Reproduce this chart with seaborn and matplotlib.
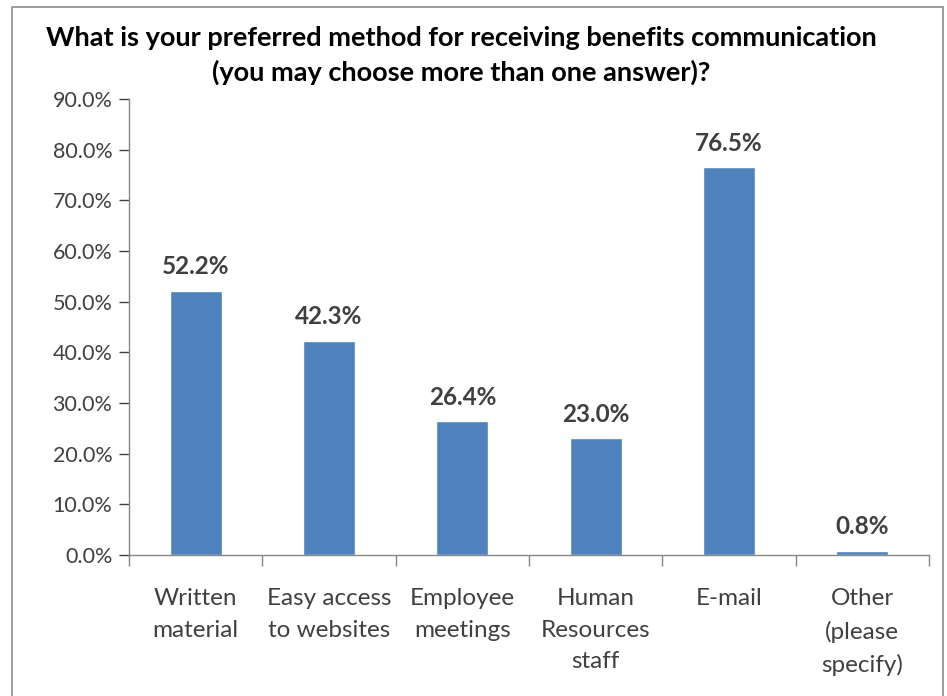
import matplotlib
matplotlib.use("Agg")
import matplotlib.pyplot as plt
from matplotlib.patches import Rectangle
from matplotlib.ticker import FuncFormatter, FixedLocator, NullFormatter
import seaborn as sns
import pandas as pd

categories = ["Written\nmaterial", "Easy access\nto websites", "Employee\nmeetings",
              "Human\nResources\nstaff", "E-mail", "Other\n(please\nspecify)"]
values = [52.2, 42.3, 26.4, 23.0, 76.5, 0.8]
y_ticks = [0, 10, 20, 30, 40, 50, 60, 70, 80, 90]
title = ("What is your preferred method for receiving benefits communication\n"
         "(you may choose more than one answer)?")

sns.set_style("white")
plt.rcParams["font.family"] = ["Lato", "DejaVu Sans"]

df = pd.DataFrame({"category": categories, "value": values})

fig = plt.figure(figsize=(9.47, 6.96), dpi=100)
ax = fig.add_axes([129 / 947, 1 - 555 / 696, 800 / 947, 456 / 696])

sns.barplot(data=df, x="category", y="value", color="#4F81BD", width=0.39,
            saturation=1, ax=ax)

ax.set_xlim(-0.5, len(categories) - 0.5)
ax.set_ylim(0, 90)
ax.set_xlabel("")
ax.set_ylabel("")

ax.yaxis.set_major_locator(FixedLocator(y_ticks))
ax.yaxis.set_major_formatter(FuncFormatter(lambda v, p: f"{v:.1f}%"))
ax.tick_params(axis="y", labelsize=15.5, colors="#404040", length=7, width=1,
               direction="out", left=True, pad=5)
for t in ax.get_yticklines():
    t.set_color("#868686")

# category labels centred, tick marks on the boundaries
ax.tick_params(axis="x", which="major", length=0, labelsize=17.5, labelcolor="#404040", pad=24)
ax.set_xticks(range(len(categories)))
ax.set_xticklabels(categories, linespacing=1.62, va="top")
bounds = [i - 0.5 for i in range(len(categories) + 1)]
ax.xaxis.set_minor_locator(FixedLocator(bounds))
ax.xaxis.set_minor_formatter(NullFormatter())
ax.tick_params(axis="x", which="minor", length=8, width=1, color="#868686",
               direction="out", bottom=True)

for side in ["top", "right"]:
    ax.spines[side].set_visible(False)
for side in ["left", "bottom"]:
    ax.spines[side].set_color("#868686")
    ax.spines[side].set_linewidth(1)

for i, v in enumerate(values):
    ax.annotate(f"{v:.1f}%", (i, v), xytext=(0, 9), textcoords="offset points",
                ha="center", va="bottom", fontsize=17.5, fontweight="bold",
                color="#404040")

fig.text(0.487, 1 - 26 / 696, title, ha="center", va="top", fontsize=19.5,
         fontweight="bold", color="black", linespacing=1.48)

fig.patches.append(Rectangle((12 / 947, -0.01), 931 / 947, 1 - 7 / 696 + 0.01,
                             transform=fig.transFigure, fill=False,
                             edgecolor="#8C8C8C", linewidth=1.2))

fig.savefig("out.png", dpi=100)
